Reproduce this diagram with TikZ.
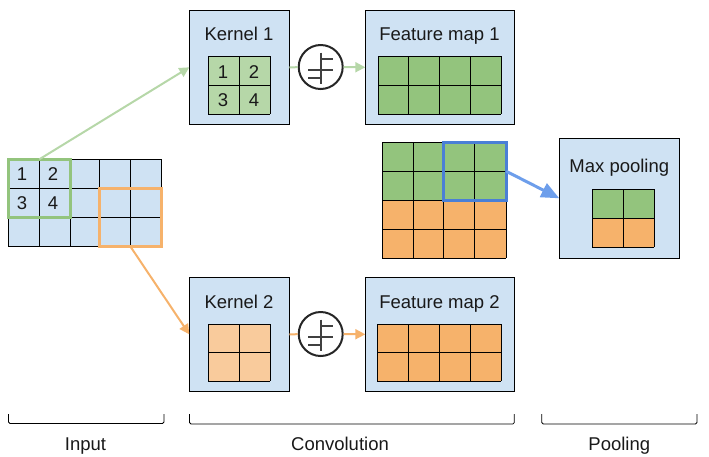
\documentclass[tikz,border=0pt]{standalone}
\usepackage{fontspec}
\setmainfont{Liberation Sans}
\usetikzlibrary{arrows.meta,positioning}

\definecolor{panelblue}{HTML}{CFE2F3}
\definecolor{softgreen}{HTML}{B6D7A8}
\definecolor{midgreen}{HTML}{93C47D}
\definecolor{softorange}{HTML}{F9CB9C}
\definecolor{midorange}{HTML}{F6B26B}
\definecolor{darkblue}{HTML}{4A7FD6}
\definecolor{lightblue}{HTML}{6D9EEB}

\tikzset{
    panel/.style={draw=black, fill=panelblue, line width=0.95pt, inner sep=0pt, outer sep=0pt},
    window/.style={draw, line width=2.6pt, inner sep=0pt, outer sep=0pt},
    stepcircle/.style={circle, draw=black!85, fill=white, line width=2pt, minimum size=44pt, inner sep=0pt, outer sep=1pt},
    stepbar/.style={black!75, line width=2pt},
    title/.style={font=\fontsize{18.5}{20}\selectfont, text=black!90, inner sep=0pt, anchor=base},
    digit/.style={font=\fontsize{18.5}{20}\selectfont, text=black!90, inner sep=0pt, anchor=base},
    gridline/.style={black, line width=0.95pt},
    bracket/.style={black, line width=0.8pt, rounded corners=1.5pt}
}

% filled cells: fill colour, x lines, y lines, first x, last x, first y, last y
\newcommand{\cellgrid}[7]{
    \fill[#1] (#4,#6) rectangle (#5,#7);
    \foreach \xline in {#2} \draw[gridline] (\xline,#6) -- (\xline,#7);
    \foreach \yline in {#3} \draw[gridline] (#4,\yline) -- (#5,\yline);
}

% the sign drawn inside each circle
\newcommand{\stepsign}[1]{
    \draw[stepbar] ([yshift=14.5pt]#1.center) -- ([yshift=-16.5pt]#1.center);
    \draw[stepbar] ([yshift=8.5pt]#1.center) -- ([xshift=12.5pt,yshift=8.5pt]#1.center);
    \draw[stepbar] ([xshift=-12.5pt,yshift=-2.5pt]#1.center) -- ([xshift=12.5pt,yshift=-2.5pt]#1.center);
    \draw[stepbar] ([xshift=-12.5pt,yshift=-10.5pt]#1.center) -- ([yshift=-10.5pt]#1.center);
}

\begin{document}
\begin{tikzpicture}[x=1pt,y=-1pt]
    \useasboundingbox (0,0) rectangle (709,456);

    % Input grid
    \cellgrid{panelblue}{8.3,39.3,70.3,99.3,130.7,161.3}{159.3,188.3,217.3,246.3}{8.3}{161.3}{159.3}{246.3}
    \node[digit] (inOne) at (22,180.3) {1};
    \node[digit] (inTwo) at (53,180.3) {2};
    \node[digit] (inThree) at (22,209.3) {3};
    \node[digit] (inFour) at (53,209.3) {4};
    \node[window, draw=midgreen, minimum width=62pt, minimum height=58pt] (inGreen) at (39.3,188.3) {};
    \node[window, draw=midorange, minimum width=62pt, minimum height=58pt] (inOrange) at (130.3,217.3) {};

    % Kernel 1
    \node[panel, minimum width=100pt, minimum height=114pt] (kernelOne) at (239.3,67.3) {};
    \node[title] (kernelOneTitle) at (239,40.8) {Kernel 1};
    \cellgrid{softgreen}{208.3,239.6,270.3}{56.3,85.7,114.3}{208.3}{270.3}{56.3}{114.3}
    \node[digit] (kOne) at (223,78) {1};
    \node[digit] (kTwo) at (254,78) {2};
    \node[digit] (kThree) at (223,106.7) {3};
    \node[digit] (kFour) at (254,106.7) {4};

    % Feature map 1
    \node[panel, minimum width=149pt, minimum height=114pt] (mapOne) at (439.8,67.3) {};
    \node[title] (mapOneTitle) at (439.5,40.8) {Feature map 1};
    \cellgrid{midgreen}{378.3,408.3,439.3,470.7,501.3}{56.3,85.3,114.3}{378.3}{501.3}{56.3}{114.3}

    % Kernel 2
    \node[panel, minimum width=100pt, minimum height=114pt] (kernelTwo) at (239.3,334.3) {};
    \node[title] (kernelTwoTitle) at (239,308.3) {Kernel 2};
    \cellgrid{softorange}{208.3,239.6,270.3}{324.3,352.3,381.3}{208.3}{270.3}{324.3}{381.3}

    % Feature map 2
    \node[panel, minimum width=149pt, minimum height=114pt] (mapTwo) at (439.8,334.3) {};
    \node[title] (mapTwoTitle) at (439.5,308.3) {Feature map 2};
    \cellgrid{midorange}{377.3,408.3,439.3,470.3,501.3}{324.3,352.3,381.3}{377.3}{501.3}{324.3}{381.3}

    % Stacked maps
    \cellgrid{midorange}{382.3,413.3,443.7,474.7,506.3}{200.3,229.3,258.3}{382.3}{506.3}{200.3}{258.3}
    \cellgrid{midgreen}{382.3,413.3,443.7,474.7,506.3}{142.3,171.3,200.3}{382.3}{506.3}{142.3}{200.3}
    \node[window, draw=darkblue, minimum width=62.5pt, minimum height=58pt] (stackBlue) at (475,171.3) {};

    % Max pooling
    \node[panel, minimum width=120pt, minimum height=120pt] (maxPool) at (619.3,198.3) {};
    \node[title] (maxPoolTitle) at (619.3,172.7) {Max pooling};
    \cellgrid{midorange}{592.3,623.3,654.3}{218.3,247.3}{592.3}{654.3}{218.3}{247.3}
    \cellgrid{midgreen}{592.3,623.3,654.3}{189.3,218.3}{592.3}{654.3}{189.3}{218.3}

    % Step circles
    \node[stepcircle] (stepOne) at (320.7,67) {};
    \node[stepcircle] (stepTwo) at (320.7,334) {};
    \stepsign{stepOne}
    \stepsign{stepTwo}

    % Arrows
    \draw[softgreen, line width=2pt, -{Triangle[length=10pt,width=10pt]}] (inGreen.north) -- (kernelOne.west);
    \draw[midorange, line width=2pt, -{Triangle[length=10pt,width=10pt]}] (inOrange.south) -- (kernelTwo.west);
    \draw[softgreen, line width=2pt] (kernelOne.east) -- (stepOne);
    \draw[softgreen, line width=2pt, -{Triangle[length=10pt,width=10pt]}] (stepOne) -- (mapOne.west);
    \draw[midorange, line width=2pt] (kernelTwo.east) -- (stepTwo);
    \draw[midorange, line width=2pt, -{Triangle[length=10pt,width=10pt]}] (stepTwo) -- (mapTwo.west);
    \draw[lightblue, line width=3pt, -{Triangle[length=18pt,width=15pt]}] (stackBlue.east) -- (maxPool.west);

    % Brackets
    \coordinate (inputA) at (8.5,414);
    \coordinate (inputB) at (164,414);
    \coordinate (convA) at (189.5,414);
    \coordinate (convB) at (514.3,414);
    \coordinate (poolA) at (541.7,414);
    \coordinate (poolB) at (697,414);
    \draw[bracket] (inputA) -- ++(0,9.5) -| (inputB);
    \draw[bracket] (convA) -- ++(0,10) -| (convB);
    \draw[bracket] (poolA) -- ++(0,10) -| (poolB);
    \node[title] (inputLabel) at (85.5,450.7) {Input};
    \node[title] (convLabel) at (340,450.7) {Convolution};
    \node[title] (poolLabel) at (619.3,450.7) {Pooling};
\end{tikzpicture}
\end{document}
